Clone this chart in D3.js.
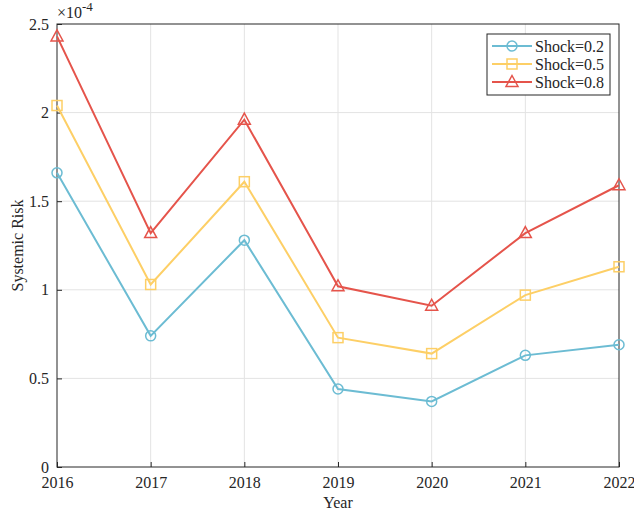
<!DOCTYPE html>
<html>
<head>
<meta charset="utf-8">
<script src="https://cdn.jsdelivr.net/npm/d3@7"></script>
<style>
  body { margin: 0; background: #fff; }
  svg { display: block; font-family: "Liberation Serif", "Times New Roman", serif; }
</style>
</head>
<body>
<svg id="chart" width="634" height="514"></svg>
<script>
// Systemic risk by year under three shock levels (values in units of 1e-4)
const years = [2016, 2017, 2018, 2019, 2020, 2021, 2022];
const shock02 = [1.66, 0.74, 1.28, 0.44, 0.37, 0.63, 0.69];
const shock05 = [2.04, 1.03, 1.61, 0.73, 0.64, 0.97, 1.13];
const shock08 = [2.43, 1.32, 1.96, 1.02, 0.91, 1.32, 1.59];
const seriesNames = ["Shock=0.2", "Shock=0.5", "Shock=0.8"];
const yTicks = [0, 0.5, 1, 1.5, 2, 2.5];

const series = [
  { name: seriesNames[0], values: shock02, color: "#6cbcd3", marker: "circle" },
  { name: seriesNames[1], values: shock05, color: "#fdcf66", marker: "square" },
  { name: seriesNames[2], values: shock08, color: "#e5544b", marker: "triangle" }
];

const svg = d3.select("#chart");
const margin = { left: 57, right: 15, top: 24, bottom: 47 };
const W = 634, H = 514;
const iw = W - margin.left - margin.right;
const ih = H - margin.top - margin.bottom;

const x = d3.scaleLinear().domain([2016, 2022]).range([0, iw]);
const y = d3.scaleLinear().domain([0, 2.5]).range([ih, 0]);

const g = svg.append("g").attr("transform", `translate(${margin.left},${margin.top})`);

// grid
g.append("g").selectAll("line").data(years.slice(1, -1)).join("line")
  .attr("x1", d => x(d)).attr("x2", d => x(d))
  .attr("y1", 0).attr("y2", ih)
  .attr("stroke", "#e3e3e3").attr("stroke-width", 1);
g.append("g").selectAll("line").data(yTicks.slice(1, -1)).join("line")
  .attr("x1", 0).attr("x2", iw)
  .attr("y1", d => y(d)).attr("y2", d => y(d))
  .attr("stroke", "#e3e3e3").attr("stroke-width", 1);

// axes
const xAxis = d3.axisBottom(x).tickValues(years).tickFormat(d3.format("d")).tickSize(-5).tickPadding(10);
const yAxis = d3.axisLeft(y).tickValues(yTicks).tickFormat(d => String(d)).tickSize(-5).tickPadding(8);

const gx = g.append("g").attr("transform", `translate(0,${ih})`).call(xAxis);
const gy = g.append("g").call(yAxis);
[gx, gy].forEach(a => {
  a.attr("font-family", null);
  a.select(".domain").remove();
  a.selectAll(".tick line").attr("stroke", "#262626");
  a.selectAll(".tick text").attr("fill", "#262626").style("font-size", "16px")
    .style("font-family", '"Liberation Serif", serif');
});

// frame
g.append("rect").attr("x", 0).attr("y", 0).attr("width", iw).attr("height", ih)
  .attr("fill", "none").attr("stroke", "#262626").attr("stroke-width", 1);

// exponent label
const expo = g.append("text").attr("x", 0).attr("y", -6).attr("fill", "#262626")
  .style("font-size", "16px");
expo.append("tspan").text("\u00d710");
expo.append("tspan").attr("dy", -7).style("font-size", "13px").text("-4");

// axis titles
svg.append("text").attr("x", margin.left + iw / 2).attr("y", 508)
  .attr("text-anchor", "middle").attr("fill", "#262626").style("font-size", "16px").text("Year");
svg.append("text").attr("transform", `translate(23,${margin.top + ih / 2}) rotate(-90)`)
  .attr("text-anchor", "middle").attr("fill", "#262626").style("font-size", "16px").text("Systemic Risk");

// marker drawing
function drawMarker(sel, type, color) {
  if (type === "circle") {
    sel.append("circle").attr("r", 5);
  } else if (type === "square") {
    sel.append("rect").attr("x", -5).attr("y", -5).attr("width", 10).attr("height", 10);
  } else {
    sel.append("path").attr("d", "M0,-6.5L6,4.5L-6,4.5Z");
  }
  sel.selectAll("*").attr("fill", "none").attr("stroke", color).attr("stroke-width", 1.5);
}

const line = d3.line().x((d, i) => x(years[i])).y(d => y(d));

series.forEach(s => {
  g.append("path").datum(s.values).attr("d", line)
    .attr("fill", "none").attr("stroke", s.color).attr("stroke-width", 2);
  g.append("g").selectAll("g").data(s.values).join("g")
    .attr("transform", (d, i) => `translate(${x(years[i])},${y(d)})`)
    .each(function () { drawMarker(d3.select(this), s.marker, s.color); });
});

// legend
const lg = svg.append("g").attr("transform", "translate(487,34)");
lg.append("rect").attr("x", 0).attr("y", 0).attr("width", 123).attr("height", 61)
  .attr("fill", "#fff").attr("stroke", "#262626").attr("stroke-width", 1);
series.forEach((s, i) => {
  const row = lg.append("g").attr("transform", `translate(0,${12 + i * 18})`);
  row.append("line").attr("x1", 5).attr("x2", 45).attr("y1", 0).attr("y2", 0)
    .attr("stroke", s.color).attr("stroke-width", 2);
  const m = row.append("g").attr("transform", "translate(25,0)");
  drawMarker(m, s.marker, s.color);
  row.append("text").attr("x", 48).attr("y", 5.5).attr("fill", "#262626")
    .style("font-size", "16px").text(s.name);
});
</script>
</body>
</html>
